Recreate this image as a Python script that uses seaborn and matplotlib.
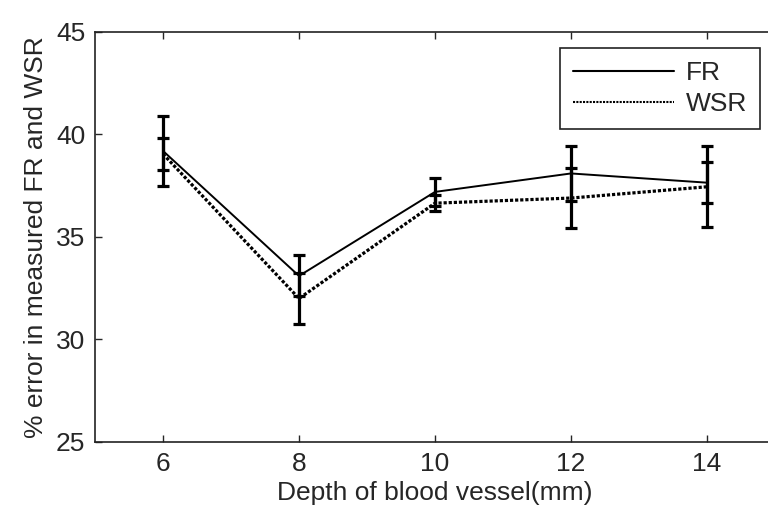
import pandas as pd
import numpy as np
import matplotlib
matplotlib.use('Agg')
import matplotlib.pyplot as plt
import seaborn as sns

sns.set_style('ticks')
plt.rcParams['font.family'] = ['Liberation Sans', 'DejaVu Sans']
plt.rcParams['xtick.direction'] = 'in'
plt.rcParams['ytick.direction'] = 'in'

# values
depth = [6, 8, 10, 12, 14]
fr_mean = [39.2, 33.1, 37.2, 38.1, 37.65]
fr_err = [1.7, 1.0, 0.7, 1.35, 1.0]
wsr_mean = [39.05, 32.0, 36.65, 36.9, 37.45]
wsr_err = [0.8, 1.25, 0.4, 1.45, 1.97]

df = pd.DataFrame({
    'depth': depth * 2,
    'err': fr_mean + wsr_mean,
    'kind': ['FR'] * len(depth) + ['WSR'] * len(depth),
})

fs = 19

fig = plt.figure(figsize=(7.68, 5.27), dpi=100)
ax = fig.add_axes([95 / 768, 1 - 442 / 527, 680 / 768, 410 / 527])

sns.lineplot(data=df, x='depth', y='err', hue='kind', style='kind',
             palette=['black', 'black'], dashes={'FR': '', 'WSR': (1, 0.6)},
             linewidth=1.5, ax=ax)
ax.lines[0].set_linewidth(1.4)
ax.lines[1].set_linewidth(2.3)

# error bars
for m, e in [(fr_mean, fr_err), (wsr_mean, wsr_err)]:
    ax.errorbar(depth, m, yerr=e, fmt='none', ecolor='black',
                elinewidth=2.3, capsize=4, capthick=2.3, zorder=3)

ax.set_xlim(5, 15)
ax.set_ylim(25, 45)
ax.set_xticks(depth)
ax.set_yticks([25, 30, 35, 40, 45])
ax.tick_params(labelsize=fs, length=5, width=1, top=True, right=True, pad=7)
for s in ax.spines.values():
    s.set_linewidth(1.2)
    s.set_color('#222222')

ax.set_xlabel('Depth of blood vessel(mm)', fontsize=fs, labelpad=4)
ax.set_ylabel('% error in measured FR and WSR', fontsize=fs, labelpad=6)

h, l = ax.get_legend_handles_labels()
leg = ax.legend(h, ['FR', 'WSR'], loc='upper right', bbox_to_anchor=(0.978, 0.961),
                borderaxespad=0, fontsize=fs, handlelength=3.8, handletextpad=0.45,
                labelspacing=0.25, fancybox=False, framealpha=1, edgecolor='#222222',
                borderpad=0.5)
leg.get_frame().set_linewidth(1.2)

fig.savefig('out.png', dpi=100)
